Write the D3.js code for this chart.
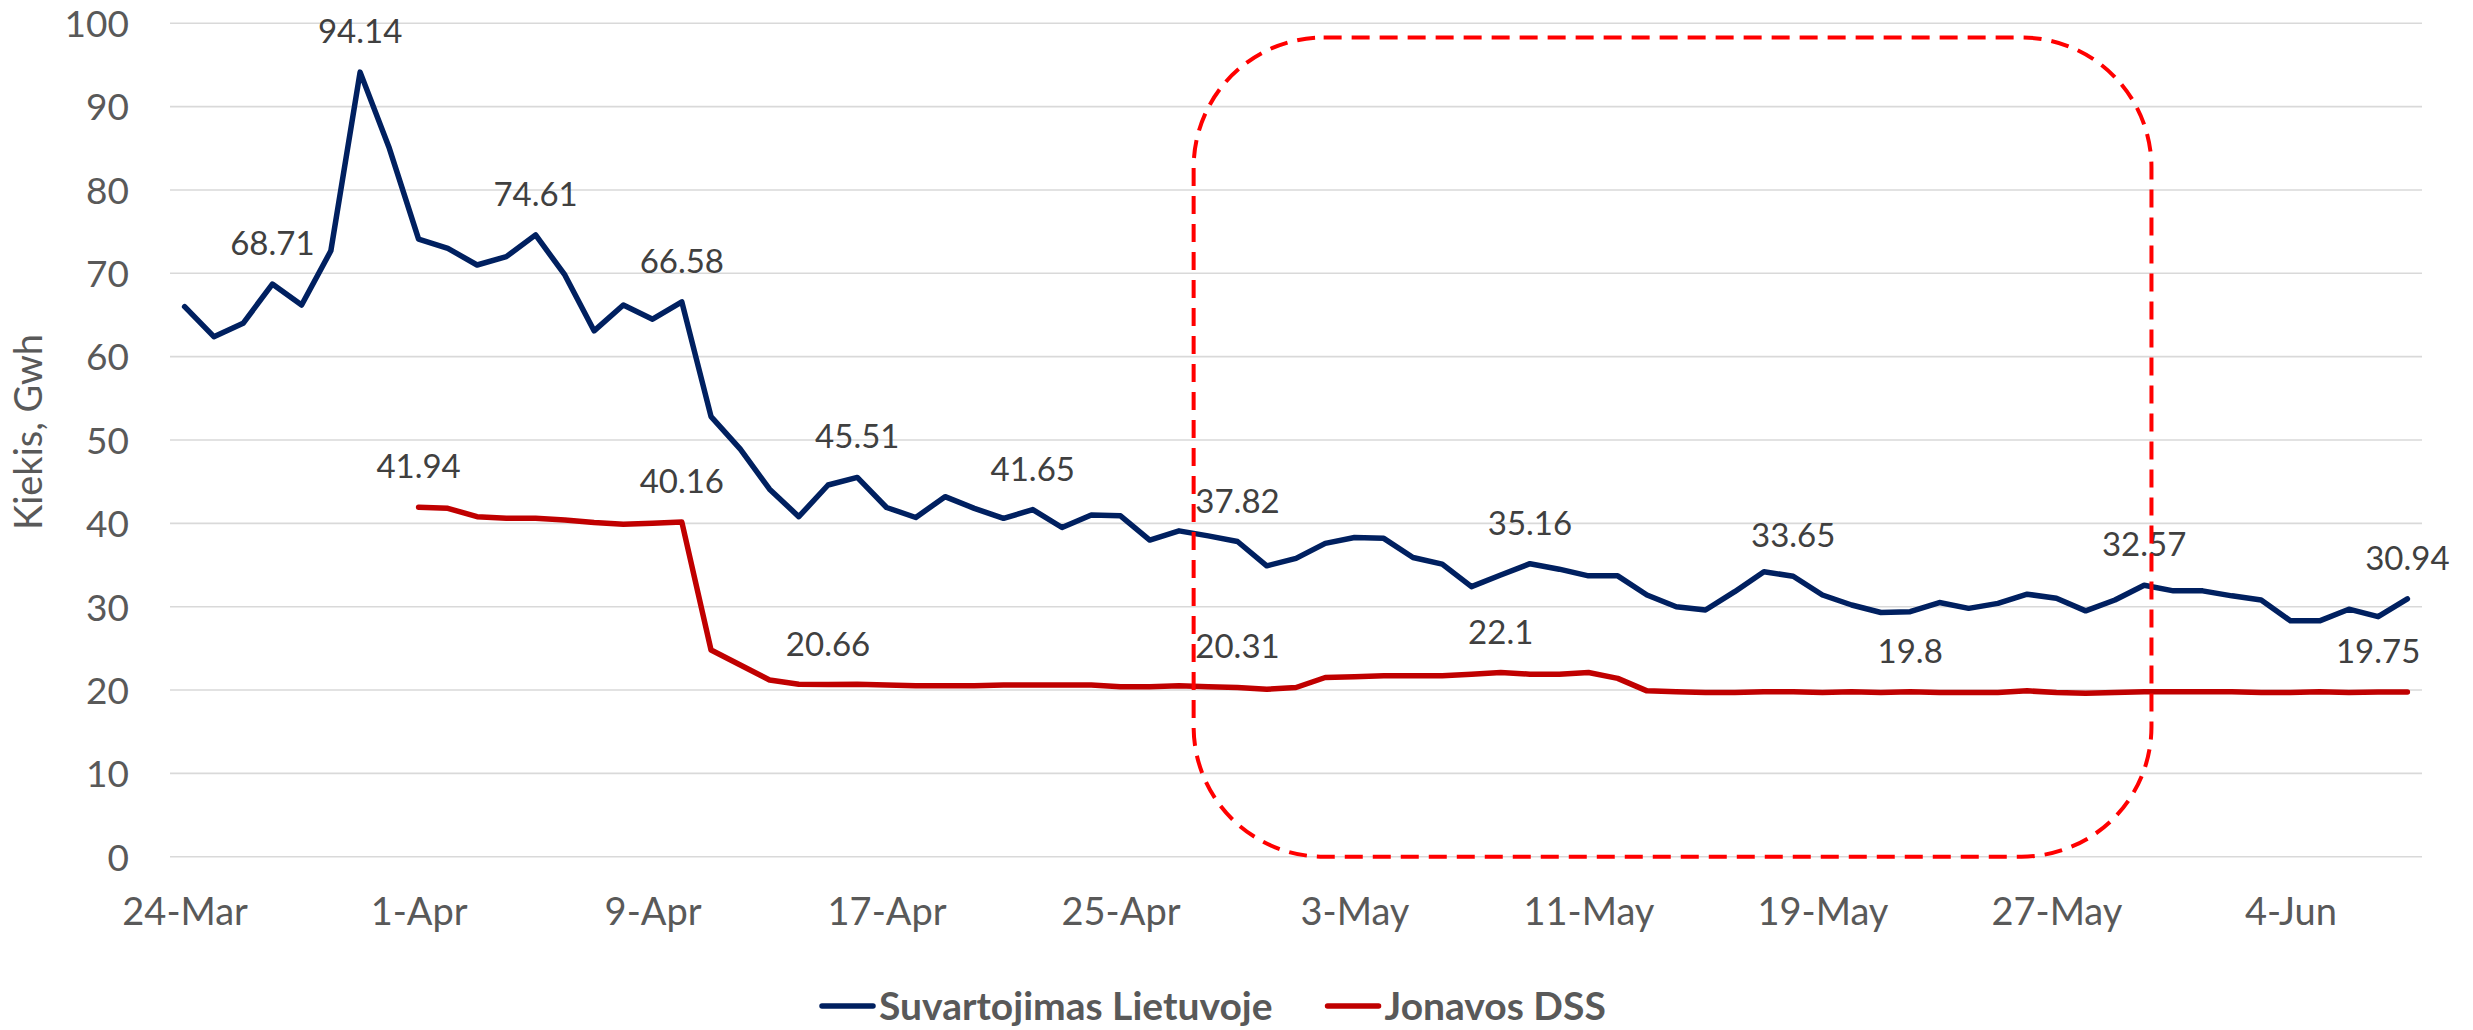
<!DOCTYPE html>
<html>
<head>
<meta charset="utf-8">
<script src="https://cdn.jsdelivr.net/npm/d3@7"></script>
<style>
  html, body { margin: 0; padding: 0; background: #ffffff; }
  svg { display: block; font-family: Lato, "Open Sans", sans-serif; }
</style>
</head>
<body>
<svg id="chart" width="2473" height="1030"></svg>
<script>
// ---- Data ----
const startDate = "2020-03-24";
const endDate = "2020-06-08";

const tickLabels = ["24-Mar","1-Apr","9-Apr","17-Apr","25-Apr","3-May","11-May","19-May","27-May","4-Jun"];
const tickDates = ["2020-03-24","2020-04-01","2020-04-09","2020-04-17","2020-04-25","2020-05-03","2020-05-11","2020-05-19","2020-05-27","2020-06-04"];

const yTicks = [0,10,20,30,40,50,60,70,80,90,100];

const seriesNames = ["Suvartojimas Lietuvoje", "Jonavos DSS"];
const seriesColors = ["#002060", "#C00000"];

const suvartojimas = [
  66.0, 62.4, 64.0, 68.71, 66.2, 72.7, 94.14, 85.0, 74.1, 73.0,
  71.0, 72.0, 74.61, 69.8, 63.1, 66.2, 64.5, 66.58, 52.8, 48.9,
  44.1, 40.8, 44.6, 45.51, 41.9, 40.7, 43.2, 41.8, 40.6, 41.65,
  39.5, 41.0, 40.9, 38.0, 39.1, 38.5, 37.82, 34.9, 35.8, 37.6,
  38.3, 38.2, 35.9, 35.1, 32.4, 33.8, 35.16, 34.5, 33.7, 33.7,
  31.4, 30.0, 29.6, 31.8, 34.2, 33.65, 31.4, 30.2, 29.3, 29.4,
  30.5, 29.8, 30.4, 31.5, 31.0, 29.5, 30.8, 32.57, 31.9, 31.9,
  31.3, 30.8, 28.3, 28.3, 29.7, 28.8, 30.94
];

const jonavosDSS = [
  null, null, null, null, null, null, null, null, 41.94, 41.8,
  40.8, 40.6, 40.6, 40.4, 40.1, 39.9, 40.0, 40.16, 24.8, 23.0,
  21.2, 20.7, 20.66, 20.7, 20.6, 20.5, 20.5, 20.5, 20.6, 20.6,
  20.6, 20.6, 20.4, 20.4, 20.5, 20.4, 20.31, 20.1, 20.3, 21.5,
  21.6, 21.7, 21.7, 21.7, 21.9, 22.1, 21.9, 21.9, 22.1, 21.4,
  19.9, 19.8, 19.7, 19.7, 19.8, 19.8, 19.7, 19.8, 19.7, 19.8,
  19.7, 19.7, 19.7, 19.9, 19.7, 19.6, 19.7, 19.8, 19.8, 19.8,
  19.8, 19.7, 19.7, 19.8, 19.7, 19.75, 19.75
];

// indices of points that carry a data label
const suvartojimasLabelIdx = [3, 6, 12, 17, 23, 29, 36, 46, 55, 67, 76];
const jonavosLabelIdx = [8, 17, 22, 36, 45, 59, 75];

// highlight annotation (dashed rounded box), in data terms
const highlightFrom = "2020-04-27T12:00:00Z";
const highlightTo = "2020-05-30T06:00:00Z";
const highlightTop = 98.3;
const highlightBottom = 0;

const yTitle = "Kiekis, Gwh";

// ---- Build ----
const parse = d3.utcParse("%Y-%m-%d");
const days = d3.utcDay.range(parse(startDate), d3.utcDay.offset(parse(endDate), 1));

const svg = d3.select("#chart");

const plotLeft = 170, plotRight = 2422, plotTop = 23.3, plotBottom = 856.7;

const x = d3.scaleUtc()
  .domain([d3.utcHour.offset(days[0], -12), d3.utcHour.offset(days[days.length - 1], 12)])
  .range([plotLeft, plotRight]);

const y = d3.scaleLinear().domain([0, 100]).range([plotBottom, plotTop]);

// gridlines
svg.append("g")
  .selectAll("line")
  .data(yTicks)
  .join("line")
  .attr("x1", plotLeft).attr("x2", plotRight)
  .attr("y1", d => y(d)).attr("y2", d => y(d))
  .attr("stroke", "#d9d9d9").attr("stroke-width", 1.6);

// y axis labels
const yAxis = d3.axisLeft(y).tickValues(yTicks).tickSize(0).tickPadding(0).tickFormat(d3.format("d"));
const gy = svg.append("g").attr("transform", "translate(129,0)").call(yAxis);
gy.select(".domain").remove();
gy.selectAll("text")
  .attr("font-family", "Lato, sans-serif")
  .attr("font-size", 37)
  .attr("fill", "#595959")
  .attr("dy", "0.36em");

// x axis labels
const tickParsed = tickDates.map(parse);
const xAxis = d3.axisBottom(x).tickValues(tickParsed).tickSize(0).tickPadding(0)
  .tickFormat((d, i) => tickLabels[i]);
const gx = svg.append("g").attr("transform", `translate(0,${plotBottom})`).call(xAxis);
gx.select(".domain").remove();
gx.selectAll("text")
  .attr("font-family", "Lato, sans-serif")
  .attr("font-size", 38)
  .attr("fill", "#595959")
  .attr("y", 68)
  .attr("dy", 0);

// y title
svg.append("text")
  .attr("transform", `translate(42,${(y(40) + y(60)) / 2 - 8}) rotate(-90)`)
  .attr("text-anchor", "middle")
  .attr("font-size", 38)
  .attr("fill", "#595959")
  .text(yTitle);

// lines
const seriesData = [suvartojimas, jonavosDSS];
const line = d3.line()
  .defined(d => d.v != null)
  .x(d => x(d.date))
  .y(d => y(d.v));

seriesData.forEach((vals, s) => {
  const pts = vals.map((v, i) => ({ date: days[i], v }));
  svg.append("path")
    .datum(pts)
    .attr("fill", "none")
    .attr("stroke", seriesColors[s])
    .attr("stroke-width", 5.5)
    .attr("stroke-linejoin", "round")
    .attr("stroke-linecap", "round")
    .attr("d", line);
});

// data labels
const labelSets = [
  { vals: suvartojimas, idx: suvartojimasLabelIdx },
  { vals: jonavosDSS, idx: jonavosLabelIdx }
];
labelSets.forEach(set => {
  svg.append("g")
    .selectAll("text")
    .data(set.idx)
    .join("text")
    .attr("x", i => x(days[i]))
    .attr("y", i => y(set.vals[i]) - 29)
    .attr("text-anchor", "middle")
    .attr("font-size", 33)
    .attr("fill", "#404040")
    .text(i => String(set.vals[i]));
});

// dashed rounded highlight box
const hx0 = x(new Date(highlightFrom)), hx1 = x(new Date(highlightTo));
const hy0 = y(highlightTop), hy1 = y(highlightBottom);
svg.append("rect")
  .attr("x", hx0).attr("y", hy0)
  .attr("width", hx1 - hx0).attr("height", hy1 - hy0)
  .attr("rx", 130).attr("ry", 130)
  .attr("fill", "none")
  .attr("stroke", "#FF0000")
  .attr("stroke-width", 4)
  .attr("stroke-dasharray", "18,10");

// legend
const legend = svg.append("g").attr("transform", "translate(820,1006)");
let cx = 0;
seriesNames.forEach((name, s) => {
  legend.append("line")
    .attr("x1", cx + 2).attr("x2", cx + 53)
    .attr("y1", 0).attr("y2", 0)
    .attr("stroke", seriesColors[s])
    .attr("stroke-width", 5.5)
    .attr("stroke-linecap", "round");
  const t = legend.append("text")
    .attr("x", cx + 59)
    .attr("y", 14)
    .attr("font-size", 39)
    .attr("font-weight", "bold")
    .attr("fill", "#595959")
    .text(name);
  const w = t.node().getComputedTextLength();
  cx += 59 + w + 53;
});
</script>
</body>
</html>
